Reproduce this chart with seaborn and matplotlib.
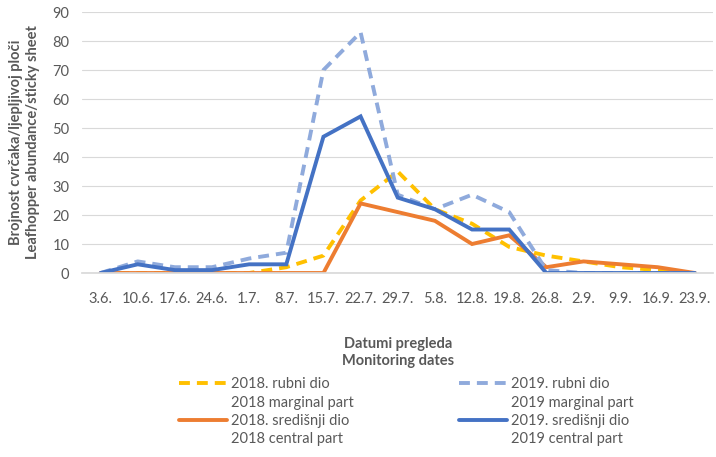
import seaborn as sns
import pandas as pd
import matplotlib.pyplot as plt
from matplotlib.lines import Line2D

# Monitoring dates and leafhopper counts per sticky sheet
dates = ['3.6.', '10.6.', '17.6.', '24.6.', '1.7.', '8.7.', '15.7.', '22.7.', '29.7.',
         '5.8.', '12.8.', '19.8.', '26.8.', '2.9.', '9.9.', '16.9.', '23.9.']
marginal_2018 = [0, 0, 0, 0, 0, 2, 6, 25, 35, 22, 17, 9, 6, 4, 2, 1, 0]
central_2018 = [0, 0, 0, 0, 0, 0, 0, 24, 21, 18, 10, 13, 2, 4, 3, 2, 0]
marginal_2019 = [0, 4, 2, 2, 5, 7, 70, 83, 27, 22, 27, 21, 1, 0, 0, 0, 0]
central_2019 = [0, 3, 1, 1, 3, 3, 47, 54, 26, 22, 15, 15, 0, 0, 0, 0, 0]

labels_hr = ['2018. rubni dio', '2018. središnji dio', '2019. rubni dio', '2019. središnji dio']
labels_en = ['2018 marginal part', '2018 central part', '2019 marginal part', '2019 central part']
colors = ['#FFC000', '#ED7D31', '#8FAADC', '#4472C4']
series = [marginal_2018, central_2018, marginal_2019, central_2019]
dashed = [True, False, True, False]

sns.set_theme(style='white')
plt.rcParams['font.family'] = ['Lato', 'DejaVu Sans']
txt = '#595959'

fig = plt.figure(figsize=(7.16, 4.57), dpi=100)
ax = fig.add_axes([0.1145, 0.4026, 0.882, 0.5711])

x = list(range(len(dates)))
handles, labs = [], []
for vals, hr, en, col, dsh in zip(series, labels_hr, labels_en, colors, dashed):
    df = pd.DataFrame({'x': x, 'y': vals})
    sns.lineplot(data=df, x='x', y='y', ax=ax, color=col, lw=2.8)
    l = ax.lines[-1]
    if dsh:
        l.set_dashes((2.8, 1.8))
    l.set_solid_joinstyle('miter')
    handles += [l, Line2D([], [], color='none')]
    labs += [hr, en]

ax.set_xlim(-0.5, len(dates) - 0.5)
ax.set_ylim(0, 90)
ax.set_yticks(range(0, 91, 10))
ax.set_xticks(x)
ax.set_xticklabels(dates)
ax.tick_params(axis='both', length=0, labelsize=10.5, colors=txt)
ax.tick_params(axis='x', pad=14)
ax.tick_params(axis='y', pad=9)
ax.yaxis.grid(True, color='#D9D9D9', lw=0.8)
ax.set_axisbelow(True)
for s in ['top', 'right', 'left']:
    ax.spines[s].set_visible(False)
ax.spines['bottom'].set_color('#D9D9D9')

ax.set_xlabel('Datumi pregleda\nMonitoring dates', fontsize=10.5, fontweight='bold',
              color=txt, labelpad=22, linespacing=1.25)
ax.set_ylabel('Brojnost cvrčaka/ljepljivoj ploči\nLeafhopper abundance/sticky sheet',
              fontsize=10.5, fontweight='bold', color=txt, labelpad=9, linespacing=1.3)

fig.legend(handles, labs, ncol=2, loc='upper left', bbox_to_anchor=(0.231, 0.203),
           frameon=False, fontsize=10.5, labelcolor=txt, handlelength=3.3,
           handletextpad=0.3, columnspacing=7.2, labelspacing=0.3)

fig.savefig('out.png', dpi=100)
